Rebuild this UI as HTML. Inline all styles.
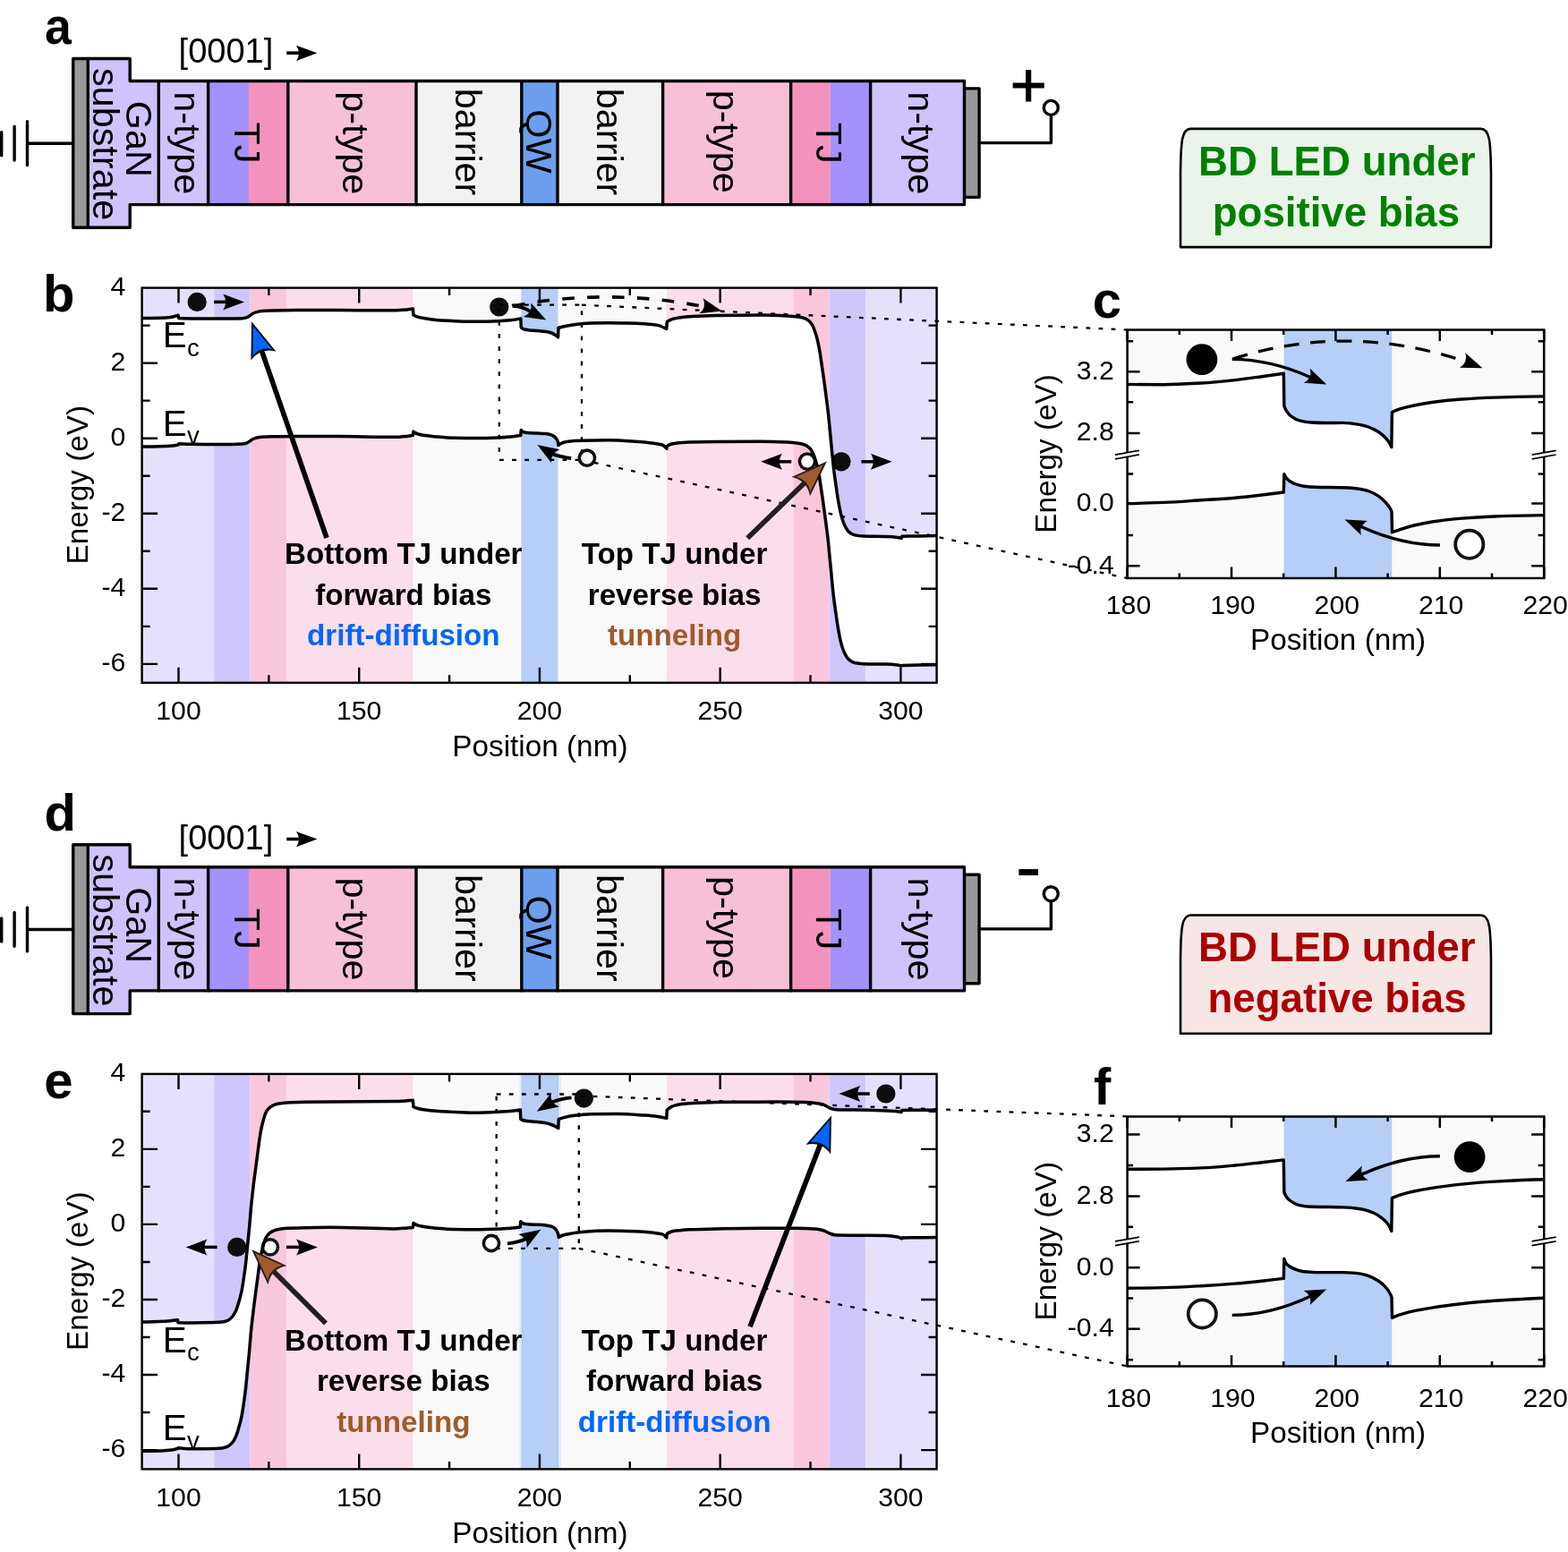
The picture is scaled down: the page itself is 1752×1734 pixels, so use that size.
<!DOCTYPE html>
<html lang="en">
<head>
<meta charset="utf-8">
<title>BD LED band diagrams</title>
<style>
html,body{margin:0;padding:0;background:#fff}
body{width:1752px;height:1734px;overflow:hidden}
svg{display:block}
</style>
</head>
<body>
<svg width="1752" height="1734" viewBox="0 0 1752 1734" font-family='"Liberation Sans", "DejaVu Sans", sans-serif' fill="#000">
<rect width="1752" height="1734" fill="#fff"/>
<text transform="translate(50.1 48.8) scale(0.925 1)" font-size="58" font-weight="bold">a</text>
<text x="48" y="348.2" font-size="58" text-anchor="start" font-weight="bold">b</text>
<text x="1220.8" y="355.4" font-size="58" text-anchor="start" font-weight="bold">c</text>
<text x="49.5" y="928.2" font-size="58" text-anchor="start" font-weight="bold">d</text>
<text x="49.3" y="1227.1" font-size="58" text-anchor="start" font-weight="bold">e</text>
<text x="1222.1" y="1233.9" font-size="58" text-anchor="start" font-weight="bold">f</text>
<g transform="translate(0 0)">
<path d="M98.3 65.5H145.2V90.5 H177.3 V228.6 H145.2 V254.3 H98.3Z" fill="#cfc2fd"/>
<rect x="177.3" y="90.5" width="55.3" height="138.1" fill="#cfc2fd"/>
<rect x="232.6" y="90.5" width="45.4" height="138.1" fill="#a491fc"/>
<rect x="278" y="90.5" width="43.8" height="138.1" fill="#f392bc"/>
<rect x="321.8" y="90.5" width="143.2" height="138.1" fill="#f8c0d8"/>
<rect x="465" y="90.5" width="117.8" height="138.1" fill="#f2f2f2"/>
<rect x="582.8" y="90.5" width="40.2" height="138.1" fill="#6d9eeb"/>
<rect x="623" y="90.5" width="117.6" height="138.1" fill="#f2f2f2"/>
<rect x="740.6" y="90.5" width="143" height="138.1" fill="#f8c0d8"/>
<rect x="883.6" y="90.5" width="44.2" height="138.1" fill="#f392bc"/>
<rect x="927.8" y="90.5" width="44.8" height="138.1" fill="#a491fc"/>
<rect x="972.6" y="90.5" width="104.9" height="138.1" fill="#cfc2fd"/>
<rect x="81.7" y="65.5" width="16.6" height="188.8" fill="#999999"/>
<rect x="1077.5" y="98.9" width="16.6" height="121.5" fill="#999999"/>
<g fill="none" stroke="#000" stroke-width="3.4" stroke-linejoin="round" stroke-linecap="round">
<path d="M81.7 65.5H145.2V90.5 H1077.5 V228.6 H145.2 V254.3 H81.7Z"/>
<path d="M98.3 65.5V254.3"/>
<path d="M177.3 90.5V228.6"/>
<path d="M232.6 90.5V228.6"/>
<path d="M321.8 90.5V228.6"/>
<path d="M465 90.5V228.6"/>
<path d="M582.8 90.5V228.6"/>
<path d="M623 90.5V228.6"/>
<path d="M740.6 90.5V228.6"/>
<path d="M883.6 90.5V228.6"/>
<path d="M972.6 90.5V228.6"/>
<path d="M1077.5 98.9H1094.1V220.4H1077.5"/>
<path d="M81.7 160.2H30.5M30.5 135.6V184.6M16.1 141.2V179.0M1.7 147.6V173.8"/>
<path d="M1094.1 159.6H1174.4V129"/>
<circle cx="1174.3" cy="120.4" r="8.0" fill="#fff" stroke-width="3.4"/>
</g>
<text transform="translate(103.6 161.05) rotate(90)" font-size="41.4" text-anchor="middle">substrate</text>
<text transform="translate(141 155.4) rotate(90)" font-size="41.4" text-anchor="middle">GaN</text>
<text transform="translate(194.5 159.65) rotate(90)" font-size="41.4" text-anchor="middle">n-type</text>
<text transform="translate(262.1 159.4) rotate(90)" font-size="41.4" text-anchor="middle">TJ</text>
<text transform="translate(383.2 159.75) rotate(90)" font-size="41.4" text-anchor="middle">p-type</text>
<text transform="translate(509.1 158.6) rotate(90)" font-size="41.4" text-anchor="middle">barrier</text>
<text transform="translate(588.4 157.9) rotate(90)" font-size="41.4" text-anchor="middle">QW</text>
<text transform="translate(666.8 158.6) rotate(90)" font-size="41.4" text-anchor="middle">barrier</text>
<text transform="translate(797.3 158.2) rotate(90)" font-size="41.4" text-anchor="middle">p-type</text>
<text transform="translate(912.1 159.8) rotate(90)" font-size="41.4" text-anchor="middle">TJ</text>
<text transform="translate(1015.2 159.8) rotate(90)" font-size="41.4" text-anchor="middle">n-type</text>
<text x="199.6" y="70.3" font-size="38" text-anchor="start">[0001]</text>
<line x1="320.2" y1="59.2" x2="336" y2="59.2" stroke="#000" stroke-width="3.6"/>
<path d="M354.4 59.3L331 67.9Q337 59.3 331 50.7Z"/>
<text x="1149.3" y="118.9" font-size="70" text-anchor="middle" stroke="#000" stroke-width="1.1">+</text>
</g>
<g transform="translate(0 878.3)">
<path d="M98.3 65.5H145.2V90.5 H177.3 V228.6 H145.2 V254.3 H98.3Z" fill="#cfc2fd"/>
<rect x="177.3" y="90.5" width="55.3" height="138.1" fill="#cfc2fd"/>
<rect x="232.6" y="90.5" width="45.4" height="138.1" fill="#a491fc"/>
<rect x="278" y="90.5" width="43.8" height="138.1" fill="#f392bc"/>
<rect x="321.8" y="90.5" width="143.2" height="138.1" fill="#f8c0d8"/>
<rect x="465" y="90.5" width="117.8" height="138.1" fill="#f2f2f2"/>
<rect x="582.8" y="90.5" width="40.2" height="138.1" fill="#6d9eeb"/>
<rect x="623" y="90.5" width="117.6" height="138.1" fill="#f2f2f2"/>
<rect x="740.6" y="90.5" width="143" height="138.1" fill="#f8c0d8"/>
<rect x="883.6" y="90.5" width="44.2" height="138.1" fill="#f392bc"/>
<rect x="927.8" y="90.5" width="44.8" height="138.1" fill="#a491fc"/>
<rect x="972.6" y="90.5" width="104.9" height="138.1" fill="#cfc2fd"/>
<rect x="81.7" y="65.5" width="16.6" height="188.8" fill="#999999"/>
<rect x="1077.5" y="98.9" width="16.6" height="121.5" fill="#999999"/>
<g fill="none" stroke="#000" stroke-width="3.4" stroke-linejoin="round" stroke-linecap="round">
<path d="M81.7 65.5H145.2V90.5 H1077.5 V228.6 H145.2 V254.3 H81.7Z"/>
<path d="M98.3 65.5V254.3"/>
<path d="M177.3 90.5V228.6"/>
<path d="M232.6 90.5V228.6"/>
<path d="M321.8 90.5V228.6"/>
<path d="M465 90.5V228.6"/>
<path d="M582.8 90.5V228.6"/>
<path d="M623 90.5V228.6"/>
<path d="M740.6 90.5V228.6"/>
<path d="M883.6 90.5V228.6"/>
<path d="M972.6 90.5V228.6"/>
<path d="M1077.5 98.9H1094.1V220.4H1077.5"/>
<path d="M81.7 160.2H30.5M30.5 135.6V184.6M16.1 141.2V179.0M1.7 147.6V173.8"/>
<path d="M1094.1 159.6H1174.4V129"/>
<circle cx="1174.3" cy="120.4" r="8.0" fill="#fff" stroke-width="3.4"/>
</g>
<text transform="translate(103.6 161.05) rotate(90)" font-size="41.4" text-anchor="middle">substrate</text>
<text transform="translate(141 155.4) rotate(90)" font-size="41.4" text-anchor="middle">GaN</text>
<text transform="translate(194.5 159.65) rotate(90)" font-size="41.4" text-anchor="middle">n-type</text>
<text transform="translate(262.1 159.4) rotate(90)" font-size="41.4" text-anchor="middle">TJ</text>
<text transform="translate(383.2 159.75) rotate(90)" font-size="41.4" text-anchor="middle">p-type</text>
<text transform="translate(509.1 158.6) rotate(90)" font-size="41.4" text-anchor="middle">barrier</text>
<text transform="translate(588.4 157.9) rotate(90)" font-size="41.4" text-anchor="middle">QW</text>
<text transform="translate(666.8 158.6) rotate(90)" font-size="41.4" text-anchor="middle">barrier</text>
<text transform="translate(797.3 158.2) rotate(90)" font-size="41.4" text-anchor="middle">p-type</text>
<text transform="translate(912.1 159.8) rotate(90)" font-size="41.4" text-anchor="middle">TJ</text>
<text transform="translate(1015.2 159.8) rotate(90)" font-size="41.4" text-anchor="middle">n-type</text>
<text x="199.6" y="70.3" font-size="38" text-anchor="start">[0001]</text>
<line x1="320.2" y1="59.2" x2="336" y2="59.2" stroke="#000" stroke-width="3.6"/>
<path d="M354.4 59.3L331 67.9Q337 59.3 331 50.7Z"/>
<text x="1149.2" y="120.1" font-size="88.5" text-anchor="middle">-</text>
</g>
<path d="M1319 276.1 V193.9 C1319.4 156.9 1320.6 144.1 1330.5 143.9 H1654.5 C1664.4 144.1 1665.6 156.9 1666 193.9 V276.1Z" fill="#eaf4ea" stroke="#000" stroke-width="2.6" stroke-linejoin="round"/>
<text x="1493.8" y="195.7" font-size="45.65" text-anchor="middle" font-weight="bold" fill="#008000">BD LED under</text>
<text x="1492.9" y="252.8" font-size="45.65" text-anchor="middle" font-weight="bold" fill="#008000">positive bias</text>
<path d="M1319 1154.7 V1072.5 C1319.4 1035.5 1320.6 1022.7 1330.5 1022.5 H1654.5 C1664.4 1022.7 1665.6 1035.5 1666 1072.5 V1154.7Z" fill="#f6e6e6" stroke="#000" stroke-width="2.6" stroke-linejoin="round"/>
<text x="1493.8" y="1074.3" font-size="45.65" text-anchor="middle" font-weight="bold" fill="#aa0000">BD LED under</text>
<text x="1494" y="1131.4" font-size="45.65" text-anchor="middle" font-weight="bold" fill="#aa0000">negative bias</text>
<rect x="158.6" y="321.6" width="80.7" height="441.2" fill="#e6e0fc"/>
<rect x="239.3" y="321.6" width="40.3" height="441.2" fill="#cfc7fb"/>
<rect x="279.6" y="321.6" width="41" height="441.2" fill="#f9c7dc"/>
<rect x="320.6" y="321.6" width="141.1" height="441.2" fill="#fbdeeb"/>
<rect x="461.7" y="321.6" width="120.6" height="441.2" fill="#f9f9f9"/>
<rect x="582.3" y="321.6" width="41.4" height="441.2" fill="#b7cef6"/>
<rect x="623.7" y="321.6" width="121.1" height="441.2" fill="#f9f9f9"/>
<rect x="744.8" y="321.6" width="141.5" height="441.2" fill="#fbdeeb"/>
<rect x="886.3" y="321.6" width="40.2" height="441.2" fill="#f9c7dc"/>
<rect x="926.5" y="321.6" width="40.8" height="441.2" fill="#cfc7fb"/>
<rect x="967.3" y="321.6" width="79.3" height="441.2" fill="#e6e0fc"/>
<path d="M158.6 355.6C165.73 355.6 172.87 355.48 180 355.3C184 355.2 188 354.85 192 354.3C194.33 353.98 196.67 353.09 199 352.2L199.7 355.5C204.8 355.68 209.9 355.86 215 355.9C223.33 355.96 231.67 356 240 356C246.53 356 253.07 356 259.6 356C263.23 356 266.87 355.89 270.5 355.7C272.33 355.6 274.17 355.18 276 354.6C277.1 354.25 278.2 353.31 279.3 352.6C280.4 351.89 281.5 350.85 282.6 350.3C284.07 349.56 285.53 348.97 287 348.6C288.8 348.14 290.6 347.78 292.4 347.6C296.07 347.23 299.73 347.02 303.4 346.9C312.27 346.62 321.13 346.4 330 346.4C346.67 346.4 363.33 346.54 380 346.6C400 346.67 420 346.8 440 346.8C445 346.8 450 346.41 455 346C457.13 345.82 459.27 345.46 461.4 345.1L461.9 352C463.27 352.69 464.63 353.38 466 353.8C469 354.72 472 355.29 475 355.8C479 356.47 483 357.03 487 357.4C491.33 357.8 495.67 358.07 500 358.3C508.33 358.73 516.67 359.3 525 359.3C531.67 359.3 538.33 359.26 545 359.2C549 359.16 553 358.99 557 358.8C561.33 358.6 565.67 358.25 570 357.8C573.93 357.39 577.87 356.69 581.8 355.9L582.3 365.7C582.87 366.31 583.43 366.91 584 367.2C585 367.7 586 368 587 368.2C588.67 368.54 590.33 368.72 592 368.9C594.67 369.19 597.33 369.35 600 369.6C603.33 369.91 606.67 370.12 610 370.6C612 370.89 614 371.35 616 372C617.33 372.43 618.67 373.18 620 374C621.17 374.72 622.33 375.7 623.5 376.8L624 366.3C626 365.75 628 365.24 630 364.8C633.33 364.07 636.67 363.39 640 362.9C643.33 362.41 646.67 361.99 650 361.7C653.33 361.41 656.67 361.09 660 361C666.67 360.82 673.33 360.7 680 360.7C686.67 360.7 693.33 360.85 700 361C706.67 361.15 713.33 361.4 720 361.8C725 362.1 730 362.51 735 363.4C738.27 363.98 741.53 365.73 744.8 367.5L745.3 359.5C746.53 358.62 747.77 357.79 749 357.3C751 356.51 753 356.03 755 355.6C757.33 355.1 759.67 354.67 762 354.4C764.67 354.09 767.33 353.86 770 353.7C780 353.11 790 352.64 800 352.5C816.67 352.26 833.33 352.1 850 352.1C860 352.1 870 352.45 880 352.9C884.03 353.08 888.07 353.44 892.1 354C894.8 354.38 897.5 355.04 900.2 356.1C901.8 356.73 903.4 357.85 905 359.4C906.07 360.43 907.13 362.15 908.2 364.2C909.03 365.8 909.87 368.26 910.7 370.7C911.5 373.04 912.3 375.58 913.1 378.7C913.9 381.82 914.7 385.61 915.5 390C916.17 393.66 916.83 398.55 917.5 403C918.17 407.45 918.83 412.04 919.5 416.7C920.07 420.66 920.63 424.64 921.2 428.8C921.73 432.71 922.27 436.87 922.8 440.9C923.33 444.93 923.87 448.69 924.4 453C924.87 456.77 925.33 460.68 925.8 465.1C926.37 470.46 926.93 477.11 927.5 483C928.2 490.27 928.9 497.5 929.6 504.5C930.3 511.5 931 519.12 931.7 525C932.5 531.72 933.3 536.98 934.1 542.6C934.9 548.22 935.7 554.16 936.5 558.8C937.57 564.99 938.63 570.89 939.7 574.9C941.07 580.04 942.43 584.23 943.8 587C945.4 590.24 947 592.97 948.6 594.3C950.77 596.1 952.93 597.44 955.1 597.9C958.3 598.58 961.5 599 964.7 599.1C973.13 599.37 981.57 599.27 990 599.5C994.33 599.62 998.67 599.89 1003 600.4C1004.43 600.57 1005.87 601.01 1007.3 601.4L1007.8 599.2C1013.53 599.09 1019.27 598.99 1025 598.9C1032.2 598.79 1039.4 598.69 1046.6 598.6L1046.6 742.8C1039.4 742.81 1032.2 742.9 1025 743C1019.33 743.08 1013.67 743.23 1008 743.4L1007.1 744C1005.67 743.61 1004.23 743.17 1002.8 743C998.47 742.49 994.13 742.22 989.8 742.1C981.37 741.87 972.93 741.97 964.5 741.7C961.3 741.6 958.1 741.18 954.9 740.49C952.73 740.03 950.57 738.68 948.4 736.87C946.8 735.53 945.2 732.79 943.6 729.53C942.23 726.75 940.87 722.53 939.5 717.36C938.43 713.33 937.37 707.4 936.3 701.17C935.5 696.5 934.7 690.54 933.9 684.88C933.1 679.22 932.3 673.94 931.5 667.18C930.8 661.27 930.1 653.6 929.4 646.56C928.7 639.53 928 632.25 927.3 624.94C926.73 619.02 926.17 612.33 925.6 606.94C925.13 602.5 924.67 598.56 924.2 594.77C923.67 590.44 923.13 586.66 922.6 582.6C922.07 578.55 921.53 574.37 921 570.43C920.43 566.25 919.87 562.25 919.3 558.27C918.63 553.58 917.97 548.96 917.3 544.49C916.63 540.02 915.97 535.09 915.3 531.41C914.5 527 913.7 523.19 912.9 520.05C912.1 516.91 911.3 514.36 910.5 512.01C909.67 509.56 908.83 507.08 908 505.47C906.93 503.41 905.87 501.68 904.8 500.64C903.2 499.09 901.6 497.95 900 497.32C897.3 496.26 894.6 495.59 891.9 495.21C887.87 494.65 883.83 494.29 879.8 494.1C869.8 493.66 859.8 493.3 849.8 493.3C833.2 493.3 816.6 493.38 800 493.5C790 493.57 780 493.79 770 494.1C767.33 494.18 764.67 494.32 762 494.5C759.67 494.66 757.33 494.88 755 495.2C753 495.48 751 495.87 749 496.5C747.77 496.89 746.53 497.63 745.3 498.4L744.8 501.1C743.2 499.38 741.6 497.52 740 497C736.67 495.93 733.33 495.64 730 495.2C723.33 494.31 716.67 493.63 710 493.2C700 492.55 690 491.8 680 491.8C670 491.8 660 492.02 650 492.3C645 492.44 640 492.69 635 493.2C633.33 493.37 631.67 493.72 630 494.2C628 494.77 626 495.97 624 497.4L623.5 494C622.83 492.37 622.17 490.9 621.5 490C620.67 488.88 619.83 488.09 619 487.5C618 486.8 617 486.24 616 485.9C614 485.22 612 484.65 610 484.5C606.67 484.26 603.33 484.23 600 484.1C597.33 484 594.67 483.95 592 483.8C590.33 483.71 588.67 483.57 587 483.3C586 483.14 585 482.82 584 482.3C583.43 482 582.87 481.3 582.3 480.6L581.8 486.5C579.53 486.83 577.27 487.16 575 487.4C570 487.94 565 488.46 560 488.7C550 489.17 540 489.6 530 489.6C520 489.6 510 489.34 500 489C495.67 488.85 491.33 488.41 487 488C483 487.62 479 487.11 475 486.5C472.67 486.15 470.33 485.81 468 485.2C466.67 484.85 465.33 484.34 464 483.6C463.3 483.21 462.6 482.57 461.9 481.9L461.4 486.5C459.27 486.85 457.13 487.21 455 487.4C450 487.84 445 488.3 440 488.3C420 488.3 400 487.72 380 487.6C363.33 487.5 346.67 487.4 330 487.4C321.13 487.4 312.27 487.53 303.4 487.7C299.73 487.77 296.07 487.93 292.4 488.2C290.6 488.33 288.8 488.62 287 489C285.53 489.31 284.07 489.82 282.6 490.5C281.5 491.01 280.4 492.09 279.3 492.8C278.2 493.51 277.1 494.43 276 494.8C274.17 495.41 272.33 495.88 270.5 496C266.87 496.25 263.23 496.36 259.6 496.4C253.07 496.46 246.53 496.5 240 496.5C231.67 496.5 223.33 496.42 215 496.3C209.97 496.23 204.93 495.96 199.9 495.7L199.2 497C197.8 497.31 196.4 497.63 195 497.8C191.67 498.2 188.33 498.49 185 498.6C176.2 498.9 167.4 499.1 158.6 499.1Z" fill="#fff"/>
<g stroke="#000" stroke-width="2.4" fill="none">
<path d="M199.5 321.6v17 M199.5 762.8v-17 M300.36 321.6v8.5 M300.36 762.8v-8.5 M401.23 321.6v17 M401.23 762.8v-17 M502.09 321.6v8.5 M502.09 762.8v-8.5 M602.95 321.6v17 M602.95 762.8v-17 M703.81 321.6v8.5 M703.81 762.8v-8.5 M804.68 321.6v17 M804.68 762.8v-17 M905.54 321.6v8.5 M905.54 762.8v-8.5 M1006.4 321.6v17 M1006.4 762.8v-17 M158.6 741.88h17.5 M1046.6 741.88h-17.5 M158.6 699.85h9 M1046.6 699.85h-9 M158.6 657.82h17.5 M1046.6 657.82h-17.5 M158.6 615.79h9 M1046.6 615.79h-9 M158.6 573.76h17.5 M1046.6 573.76h-17.5 M158.6 531.73h9 M1046.6 531.73h-9 M158.6 489.7h17.5 M1046.6 489.7h-17.5 M158.6 447.67h9 M1046.6 447.67h-9 M158.6 405.64h17.5 M1046.6 405.64h-17.5 M158.6 363.61h9 M1046.6 363.61h-9"/>
<rect x="158.6" y="321.6" width="888" height="441.2"/>
</g>
<g font-size="30.2">
<text x="199.5" y="804.3" font-size="30.2" text-anchor="middle">100</text>
<text x="401.23" y="804.3" font-size="30.2" text-anchor="middle">150</text>
<text x="602.95" y="804.3" font-size="30.2" text-anchor="middle">200</text>
<text x="804.68" y="804.3" font-size="30.2" text-anchor="middle">250</text>
<text x="1006.4" y="804.3" font-size="30.2" text-anchor="middle">300</text>
<text x="140.4" y="749.88" font-size="30.2" text-anchor="end">-6</text>
<text x="140.4" y="665.82" font-size="30.2" text-anchor="end">-4</text>
<text x="140.4" y="581.76" font-size="30.2" text-anchor="end">-2</text>
<text x="140.4" y="497.7" font-size="30.2" text-anchor="end">0</text>
<text x="140.4" y="413.64" font-size="30.2" text-anchor="end">2</text>
<text x="140.4" y="329.58" font-size="30.2" text-anchor="end">4</text>
</g>
<text x="603.4" y="845" font-size="33.3" text-anchor="middle">Position (nm)</text>
<text transform="translate(98 541.7) rotate(-90)" font-size="33.3" text-anchor="middle">Energy (eV)</text>
<circle cx="220.2" cy="337.4" r="10.6" fill="#0d0d0d"/>
<line x1="239" y1="337.4" x2="253.2" y2="337.4" stroke="#000" stroke-width="3.5"/>
<path d="M273 337.4L249.2 346.4Q255.2 337.4 249.2 328.4Z"/>
<circle cx="557.8" cy="343" r="10.6" fill="#0d0d0d"/>
<circle cx="940" cy="515.8" r="10.6" fill="#0d0d0d"/>
<path d="M557.8 340.7H650V513.8H557.8Z" fill="none" stroke="#000" stroke-width="2.3" stroke-dasharray="4.8 9.3"/>
<path d="M650 340.7L1259.6 368.5" fill="none" stroke="#000" stroke-width="2.3" stroke-dasharray="4.8 9.3"/>
<path d="M650 513.8L1259.6 646" fill="none" stroke="#000" stroke-width="2.3" stroke-dasharray="4.8 9.3"/>
<circle cx="655.9" cy="511.7" r="8.6" fill="#fff" fill-opacity="0.94" stroke="#111" stroke-width="3.6"/>
<circle cx="902" cy="515.6" r="8.6" fill="#fff" fill-opacity="0.94" stroke="#111" stroke-width="3.6"/>
<path d="M158.6 355.6C165.73 355.6 172.87 355.48 180 355.3C184 355.2 188 354.85 192 354.3C194.33 353.98 196.67 353.09 199 352.2L199.7 355.5C204.8 355.68 209.9 355.86 215 355.9C223.33 355.96 231.67 356 240 356C246.53 356 253.07 356 259.6 356C263.23 356 266.87 355.89 270.5 355.7C272.33 355.6 274.17 355.18 276 354.6C277.1 354.25 278.2 353.31 279.3 352.6C280.4 351.89 281.5 350.85 282.6 350.3C284.07 349.56 285.53 348.97 287 348.6C288.8 348.14 290.6 347.78 292.4 347.6C296.07 347.23 299.73 347.02 303.4 346.9C312.27 346.62 321.13 346.4 330 346.4C346.67 346.4 363.33 346.54 380 346.6C400 346.67 420 346.8 440 346.8C445 346.8 450 346.41 455 346C457.13 345.82 459.27 345.46 461.4 345.1L461.9 352C463.27 352.69 464.63 353.38 466 353.8C469 354.72 472 355.29 475 355.8C479 356.47 483 357.03 487 357.4C491.33 357.8 495.67 358.07 500 358.3C508.33 358.73 516.67 359.3 525 359.3C531.67 359.3 538.33 359.26 545 359.2C549 359.16 553 358.99 557 358.8C561.33 358.6 565.67 358.25 570 357.8C573.93 357.39 577.87 356.69 581.8 355.9L582.3 365.7C582.87 366.31 583.43 366.91 584 367.2C585 367.7 586 368 587 368.2C588.67 368.54 590.33 368.72 592 368.9C594.67 369.19 597.33 369.35 600 369.6C603.33 369.91 606.67 370.12 610 370.6C612 370.89 614 371.35 616 372C617.33 372.43 618.67 373.18 620 374C621.17 374.72 622.33 375.7 623.5 376.8L624 366.3C626 365.75 628 365.24 630 364.8C633.33 364.07 636.67 363.39 640 362.9C643.33 362.41 646.67 361.99 650 361.7C653.33 361.41 656.67 361.09 660 361C666.67 360.82 673.33 360.7 680 360.7C686.67 360.7 693.33 360.85 700 361C706.67 361.15 713.33 361.4 720 361.8C725 362.1 730 362.51 735 363.4C738.27 363.98 741.53 365.73 744.8 367.5L745.3 359.5C746.53 358.62 747.77 357.79 749 357.3C751 356.51 753 356.03 755 355.6C757.33 355.1 759.67 354.67 762 354.4C764.67 354.09 767.33 353.86 770 353.7C780 353.11 790 352.64 800 352.5C816.67 352.26 833.33 352.1 850 352.1C860 352.1 870 352.45 880 352.9C884.03 353.08 888.07 353.44 892.1 354C894.8 354.38 897.5 355.04 900.2 356.1C901.8 356.73 903.4 357.85 905 359.4C906.07 360.43 907.13 362.15 908.2 364.2C909.03 365.8 909.87 368.26 910.7 370.7C911.5 373.04 912.3 375.58 913.1 378.7C913.9 381.82 914.7 385.61 915.5 390C916.17 393.66 916.83 398.55 917.5 403C918.17 407.45 918.83 412.04 919.5 416.7C920.07 420.66 920.63 424.64 921.2 428.8C921.73 432.71 922.27 436.87 922.8 440.9C923.33 444.93 923.87 448.69 924.4 453C924.87 456.77 925.33 460.68 925.8 465.1C926.37 470.46 926.93 477.11 927.5 483C928.2 490.27 928.9 497.5 929.6 504.5C930.3 511.5 931 519.12 931.7 525C932.5 531.72 933.3 536.98 934.1 542.6C934.9 548.22 935.7 554.16 936.5 558.8C937.57 564.99 938.63 570.89 939.7 574.9C941.07 580.04 942.43 584.23 943.8 587C945.4 590.24 947 592.97 948.6 594.3C950.77 596.1 952.93 597.44 955.1 597.9C958.3 598.58 961.5 599 964.7 599.1C973.13 599.37 981.57 599.27 990 599.5C994.33 599.62 998.67 599.89 1003 600.4C1004.43 600.57 1005.87 601.01 1007.3 601.4L1007.8 599.2C1013.53 599.09 1019.27 598.99 1025 598.9C1032.2 598.79 1039.4 598.69 1046.6 598.6" fill="none" stroke="#000" stroke-width="3.5" stroke-linejoin="round"/>
<path d="M158.6 499.1C167.4 499.1 176.2 498.9 185 498.6C188.33 498.49 191.67 498.2 195 497.8C196.4 497.63 197.8 497.31 199.2 497L199.9 495.7C204.93 495.96 209.97 496.23 215 496.3C223.33 496.42 231.67 496.5 240 496.5C246.53 496.5 253.07 496.46 259.6 496.4C263.23 496.36 266.87 496.25 270.5 496C272.33 495.88 274.17 495.41 276 494.8C277.1 494.43 278.2 493.51 279.3 492.8C280.4 492.09 281.5 491.01 282.6 490.5C284.07 489.82 285.53 489.31 287 489C288.8 488.62 290.6 488.33 292.4 488.2C296.07 487.93 299.73 487.77 303.4 487.7C312.27 487.53 321.13 487.4 330 487.4C346.67 487.4 363.33 487.5 380 487.6C400 487.72 420 488.3 440 488.3C445 488.3 450 487.84 455 487.4C457.13 487.21 459.27 486.85 461.4 486.5L461.9 481.9C462.6 482.57 463.3 483.21 464 483.6C465.33 484.34 466.67 484.85 468 485.2C470.33 485.81 472.67 486.15 475 486.5C479 487.11 483 487.62 487 488C491.33 488.41 495.67 488.85 500 489C510 489.34 520 489.6 530 489.6C540 489.6 550 489.17 560 488.7C565 488.46 570 487.94 575 487.4C577.27 487.16 579.53 486.83 581.8 486.5L582.3 480.6C582.87 481.3 583.43 482 584 482.3C585 482.82 586 483.14 587 483.3C588.67 483.57 590.33 483.71 592 483.8C594.67 483.95 597.33 484 600 484.1C603.33 484.23 606.67 484.26 610 484.5C612 484.65 614 485.22 616 485.9C617 486.24 618 486.8 619 487.5C619.83 488.09 620.67 488.88 621.5 490C622.17 490.9 622.83 492.37 623.5 494L624 497.4C626 495.97 628 494.77 630 494.2C631.67 493.72 633.33 493.37 635 493.2C640 492.69 645 492.44 650 492.3C660 492.02 670 491.8 680 491.8C690 491.8 700 492.55 710 493.2C716.67 493.63 723.33 494.31 730 495.2C733.33 495.64 736.67 495.93 740 497C741.6 497.52 743.2 499.38 744.8 501.1L745.3 498.4C746.53 497.63 747.77 496.89 749 496.5C751 495.87 753 495.48 755 495.2C757.33 494.88 759.67 494.66 762 494.5C764.67 494.32 767.33 494.18 770 494.1C780 493.79 790 493.57 800 493.5C816.6 493.38 833.2 493.3 849.8 493.3C859.8 493.3 869.8 493.66 879.8 494.1C883.83 494.29 887.87 494.65 891.9 495.21C894.6 495.59 897.3 496.26 900 497.32C901.6 497.95 903.2 499.09 904.8 500.64C905.87 501.68 906.93 503.41 908 505.47C908.83 507.08 909.67 509.56 910.5 512.01C911.3 514.36 912.1 516.91 912.9 520.05C913.7 523.19 914.5 527 915.3 531.41C915.97 535.09 916.63 540.02 917.3 544.49C917.97 548.96 918.63 553.58 919.3 558.27C919.87 562.25 920.43 566.25 921 570.43C921.53 574.37 922.07 578.55 922.6 582.6C923.13 586.66 923.67 590.44 924.2 594.77C924.67 598.56 925.13 602.5 925.6 606.94C926.17 612.33 926.73 619.02 927.3 624.94C928 632.25 928.7 639.53 929.4 646.56C930.1 653.6 930.8 661.27 931.5 667.18C932.3 673.94 933.1 679.22 933.9 684.88C934.7 690.54 935.5 696.5 936.3 701.17C937.37 707.4 938.43 713.33 939.5 717.36C940.87 722.53 942.23 726.75 943.6 729.53C945.2 732.79 946.8 735.53 948.4 736.87C950.57 738.68 952.73 740.03 954.9 740.49C958.1 741.18 961.3 741.6 964.5 741.7C972.93 741.97 981.37 741.87 989.8 742.1C994.13 742.22 998.47 742.49 1002.8 743C1004.23 743.17 1005.67 743.61 1007.1 744L1008 743.4C1013.67 743.23 1019.33 743.08 1025 743C1032.2 742.9 1039.4 742.81 1046.6 742.8" fill="none" stroke="#000" stroke-width="3.5" stroke-linejoin="round"/>
<line x1="884.3" y1="515.8" x2="869.9" y2="515.8" stroke="#000" stroke-width="3.5"/>
<path d="M850.1 515.8L873.9 506.8Q867.9 515.8 873.9 524.8Z"/>
<line x1="962.4" y1="515.8" x2="976.9" y2="515.8" stroke="#000" stroke-width="3.5"/>
<path d="M996.7 515.8L972.9 524.8Q978.9 515.8 972.9 506.8Z"/>
<path d="M573 341.8Q681 321.3 788.24 342.98" fill="none" stroke="#000" stroke-width="3.6" stroke-dasharray="13.6 14.3"/>
<path d="M806.7 347.5L781.3 350.34Q790.19 343.46 785.48 333.25Z"/>
<path d="M572.6 341.9Q585 342.5 593.55 348.64" fill="none" stroke="#000" stroke-width="3.8"/>
<path d="M610.3 357.6L584.99 354.04Q595.31 349.58 593.29 338.52Z"/>
<path d="M638.2 512Q626 510.5 616.56 507.1" fill="none" stroke="#000" stroke-width="3.8"/>
<path d="M600.4 497.1L625.44 502.25Q614.85 506.05 616.17 517.21Z"/>
<text x="181.8" y="388.3" font-size="40.5">E<tspan font-size="27.5" dy="9.4" dx="0.3">c</tspan></text>
<text x="181.8" y="486.6" font-size="40.5">E<tspan font-size="27.5" dy="9.4" dx="0.3">v</tspan></text>
<line x1="365" y1="601" x2="292.25" y2="391.42" stroke="#000" stroke-width="5.6"/>
<path d="M281.1 359.3L308.4 392.8Q291.07 388.02 280.43 402.51Z" fill="#000"/>
<path d="M282.94 364.59L304.03 390.29Q290.81 387.26 282.3 397.84Z" fill="#0066ff"/>
<line x1="835.2" y1="601.2" x2="899.46" y2="539.04" stroke="#231f20" stroke-width="5.6"/>
<path d="M923.9 515.4L905.01 554.27Q902.05 536.54 884.43 532.99Z" fill="#231f20"/>
<path d="M919.87 519.29L905.45 549.25Q902.62 535.98 889.45 532.72Z" fill="#a05a2c"/>
<text x="450.8" y="630.4" font-size="33.2" text-anchor="middle" font-weight="bold">Bottom TJ under</text>
<text x="450.8" y="675.9" font-size="33.2" text-anchor="middle" font-weight="bold">forward bias</text>
<text x="450.8" y="721.4" font-size="33.2" text-anchor="middle" font-weight="bold" fill="#0066ff">drift-diffusion</text>
<text x="753.6" y="630.4" font-size="33.2" text-anchor="middle" font-weight="bold">Top TJ under</text>
<text x="753.6" y="675.9" font-size="33.2" text-anchor="middle" font-weight="bold">reverse bias</text>
<text x="753.6" y="721.4" font-size="33.2" text-anchor="middle" font-weight="bold" fill="#a05a2c">tunneling</text>
<rect x="1259.6" y="368.5" width="465.6" height="277.5" fill="#f9f9f9"/>
<rect x="1434.6" y="368.5" width="120.7" height="277.5" fill="#b7cef6"/>
<path d="M1259.6 429.4C1273.07 429.7 1286.53 429.7 1300 429.7C1314 429.7 1328 428.79 1342 428C1354.67 427.29 1367.33 425.95 1380 424.6C1390 423.53 1400 422.05 1410 420.7C1418.1 419.61 1426.2 418.47 1434.3 417.3L1434.8 453.6C1435.6 455.57 1436.4 457.55 1437.2 458.8C1439.13 461.81 1441.07 464.02 1443 465.4C1446 467.54 1449 469.14 1452 469.9C1456.33 470.99 1460.67 471.76 1465 472C1470 472.28 1475 472.5 1480 472.5C1486.67 472.5 1493.33 472.4 1500 472.4C1506.67 472.4 1513.33 473.54 1520 474.7C1525 475.57 1530 477.38 1535 479.6C1538.33 481.08 1541.67 483.29 1545 486.1C1547.33 488.07 1549.67 490.6 1552 494.1C1552.93 495.5 1553.87 497.55 1554.8 499.6L1555.4 460.5C1558.6 459.05 1561.8 457.69 1565 456.7C1570 455.15 1575 454.03 1580 453C1586.67 451.62 1593.33 450.4 1600 449.5C1610 448.15 1620 447.04 1630 446.3C1643.33 445.32 1656.67 444.53 1670 444.1C1688.4 443.51 1706.8 442.95 1725.2 442.9L1725.2 575.6C1706.8 575.7 1688.4 576.33 1670 577C1656.67 577.49 1643.33 578.32 1630 579.4C1620 580.21 1610 581.47 1600 583C1593.33 584.02 1586.67 585.42 1580 587C1575 588.19 1570 589.72 1565 591.3C1561.83 592.3 1558.67 593.43 1555.5 594.6L1555 572C1554.67 571 1554.33 569.86 1554 569.2C1552 565.23 1550 563.23 1548 561.1C1545.33 558.26 1542.67 555.95 1540 554.2C1536.67 552.02 1533.33 550.06 1530 549C1525 547.41 1520 546.17 1515 545.7C1510 545.23 1505 544.94 1500 544.8C1490 544.52 1480 544.61 1470 544.3C1465.67 544.17 1461.33 543.76 1457 543.2C1454 542.81 1451 542 1448 541C1445.67 540.22 1443.33 539.1 1441 537.5C1439.67 536.58 1438.33 535.23 1437 533.5C1436.27 532.55 1435.53 531.16 1434.8 529.7L1434.3 550C1426.2 551.06 1418.1 552.07 1410 553C1400 554.15 1390 555.36 1380 556.2C1367.33 557.27 1354.67 557.98 1342 558.8C1328 559.71 1314 560.84 1300 561.4C1286.53 561.94 1273.07 562.41 1259.6 562.6Z" fill="#fff"/>
<g stroke="#000" stroke-width="2.5" fill="none">
<path d="M1259.6 368.5v12.5 M1259.6 646v-12.5 M1317.8 368.5v5.4 M1317.8 646v-5.4 M1376 368.5v12.5 M1376 646v-12.5 M1434.2 368.5v5.4 M1434.2 646v-5.4 M1492.4 368.5v12.5 M1492.4 646v-12.5 M1550.6 368.5v5.4 M1550.6 646v-5.4 M1608.8 368.5v12.5 M1608.8 646v-12.5 M1667 368.5v5.4 M1667 646v-5.4 M1725.2 368.5v12.5 M1725.2 646v-12.5 M1259.6 415.2h14 M1725.2 415.2h-14 M1259.6 483.9h14 M1725.2 483.9h-14 M1259.6 562.6h14 M1725.2 562.6h-14 M1259.6 632.3h14 M1725.2 632.3h-14 M1259.6 381.3h6.5 M1725.2 381.3h-6.5 M1259.6 449.3h6.5 M1725.2 449.3h-6.5 M1259.6 529.4h6.5 M1725.2 529.4h-6.5 M1259.6 598.1h6.5 M1725.2 598.1h-6.5"/>
<rect x="1259.6" y="368.5" width="465.6" height="277.5"/>
</g>
<path d="M1246 508.1 L1273 503.3 L1273 508 L1246 512.8Z" fill="#fff"/>
<path d="M1246 508.1 L1273 503.3 M1246 512.8 L1273 508" stroke="#000" stroke-width="1.7" fill="none"/>
<path d="M1711.6 508.1 L1738.6 503.3 L1738.6 508 L1711.6 512.8Z" fill="#fff"/>
<path d="M1711.6 508.1 L1738.6 503.3 M1711.6 512.8 L1738.6 508" stroke="#000" stroke-width="1.7" fill="none"/>
<text x="1261" y="686" font-size="30.2" text-anchor="middle">180</text>
<text x="1377.4" y="686" font-size="30.2" text-anchor="middle">190</text>
<text x="1493.8" y="686" font-size="30.2" text-anchor="middle">200</text>
<text x="1610.2" y="686" font-size="30.2" text-anchor="middle">210</text>
<text x="1726.6" y="686" font-size="30.2" text-anchor="middle">220</text>
<text x="1244.7" y="423.5" font-size="30.2" text-anchor="end">3.2</text>
<text x="1244.7" y="492.2" font-size="30.2" text-anchor="end">2.8</text>
<text x="1244.7" y="570.9" font-size="30.2" text-anchor="end">0.0</text>
<text x="1244.7" y="640.6" font-size="30.2" text-anchor="end">-0.4</text>
<text x="1495" y="726.1" font-size="33.3" text-anchor="middle">Position (nm)</text>
<text transform="translate(1179.8 506.95) rotate(-90)" font-size="33.3" text-anchor="middle">Energy (eV)</text>
<path d="M1259.6 429.4C1273.07 429.7 1286.53 429.7 1300 429.7C1314 429.7 1328 428.79 1342 428C1354.67 427.29 1367.33 425.95 1380 424.6C1390 423.53 1400 422.05 1410 420.7C1418.1 419.61 1426.2 418.47 1434.3 417.3L1434.8 453.6C1435.6 455.57 1436.4 457.55 1437.2 458.8C1439.13 461.81 1441.07 464.02 1443 465.4C1446 467.54 1449 469.14 1452 469.9C1456.33 470.99 1460.67 471.76 1465 472C1470 472.28 1475 472.5 1480 472.5C1486.67 472.5 1493.33 472.4 1500 472.4C1506.67 472.4 1513.33 473.54 1520 474.7C1525 475.57 1530 477.38 1535 479.6C1538.33 481.08 1541.67 483.29 1545 486.1C1547.33 488.07 1549.67 490.6 1552 494.1C1552.93 495.5 1553.87 497.55 1554.8 499.6L1555.4 460.5C1558.6 459.05 1561.8 457.69 1565 456.7C1570 455.15 1575 454.03 1580 453C1586.67 451.62 1593.33 450.4 1600 449.5C1610 448.15 1620 447.04 1630 446.3C1643.33 445.32 1656.67 444.53 1670 444.1C1688.4 443.51 1706.8 442.95 1725.2 442.9" fill="none" stroke="#000" stroke-width="3.4" stroke-linejoin="round"/>
<path d="M1259.6 562.6C1273.07 562.41 1286.53 561.94 1300 561.4C1314 560.84 1328 559.71 1342 558.8C1354.67 557.98 1367.33 557.27 1380 556.2C1390 555.36 1400 554.15 1410 553C1418.1 552.07 1426.2 551.06 1434.3 550L1434.8 529.7C1435.53 531.16 1436.27 532.55 1437 533.5C1438.33 535.23 1439.67 536.58 1441 537.5C1443.33 539.1 1445.67 540.22 1448 541C1451 542 1454 542.81 1457 543.2C1461.33 543.76 1465.67 544.17 1470 544.3C1480 544.61 1490 544.52 1500 544.8C1505 544.94 1510 545.23 1515 545.7C1520 546.17 1525 547.41 1530 549C1533.33 550.06 1536.67 552.02 1540 554.2C1542.67 555.95 1545.33 558.26 1548 561.1C1550 563.23 1552 565.23 1554 569.2C1554.33 569.86 1554.67 571 1555 572L1555.5 594.6C1558.67 593.43 1561.83 592.3 1565 591.3C1570 589.72 1575 588.19 1580 587C1586.67 585.42 1593.33 584.02 1600 583C1610 581.47 1620 580.21 1630 579.4C1643.33 578.32 1656.67 577.49 1670 577C1688.4 576.33 1706.8 575.7 1725.2 575.6" fill="none" stroke="#000" stroke-width="3.4" stroke-linejoin="round"/>
<circle cx="1342.9" cy="401.7" r="17.4" fill="#000"/>
<circle cx="1641.8" cy="608.2" r="15.6" fill="#fff" fill-opacity="0.94" stroke="#111" stroke-width="3.8"/>
<path d="M1376.7 401.4Q1419.8 401.5 1464.8 421.76" fill="none" stroke="#000" stroke-width="3.4"/>
<path d="M1482.2 429.4L1456.69 427.81Q1466.63 422.57 1463.76 411.69Z"/>
<path d="M1377.5 401Q1507.5 359.5 1638.78 404.35" fill="none" stroke="#000" stroke-width="3.3" stroke-dasharray="17 12.5"/>
<path d="M1656.5 411.2L1630.94 410.75Q1640.64 405.07 1637.29 394.34Z"/>
<path d="M1608.9 609Q1566 609 1519.91 588.02" fill="none" stroke="#000" stroke-width="3.4"/>
<path d="M1502.5 580.4L1528.01 581.96Q1518.07 587.22 1520.96 598.09Z"/>
<rect x="158.6" y="1199.9" width="80.7" height="441.5" fill="#e6e0fc"/>
<rect x="239.3" y="1199.9" width="40.3" height="441.5" fill="#cfc7fb"/>
<rect x="279.6" y="1199.9" width="41" height="441.5" fill="#f9c7dc"/>
<rect x="320.6" y="1199.9" width="141.1" height="441.5" fill="#fbdeeb"/>
<rect x="461.7" y="1199.9" width="120.6" height="441.5" fill="#f9f9f9"/>
<rect x="582.3" y="1199.9" width="41.4" height="441.5" fill="#b7cef6"/>
<rect x="623.7" y="1199.9" width="121.1" height="441.5" fill="#f9f9f9"/>
<rect x="744.8" y="1199.9" width="141.5" height="441.5" fill="#fbdeeb"/>
<rect x="886.3" y="1199.9" width="40.2" height="441.5" fill="#f9c7dc"/>
<rect x="926.5" y="1199.9" width="40.8" height="441.5" fill="#cfc7fb"/>
<rect x="967.3" y="1199.9" width="79.3" height="441.5" fill="#e6e0fc"/>
<rect x="580.6" y="1199.9" width="46.1" height="441.5" fill="#dfe8f9"/>
<rect x="582.8" y="1199.9" width="41.2" height="441.5" fill="#aac5f5"/>
<rect x="584.0" y="1199.9" width="38.8" height="441.5" fill="#b7cef6"/>
<path d="M158.6 1477.1C167.4 1477.1 176.2 1476.75 185 1476.3C189.5 1476.07 194 1475.37 198.5 1474.7L199 1477.7C204.33 1477.83 209.67 1477.9 215 1477.9C223.33 1477.9 231.67 1477.74 240 1477.5C242.7 1477.42 245.4 1477.28 248.1 1477C250.23 1476.78 252.37 1476.17 254.5 1475.3C256.13 1474.63 257.77 1473.1 259.4 1471.3C260.73 1469.83 262.07 1467.61 263.4 1464.8C264.47 1462.55 265.53 1459.01 266.6 1455.5C267.7 1451.88 268.8 1448.18 269.9 1443C270.7 1439.23 271.5 1433.85 272.3 1428.5C273.1 1423.15 273.9 1417.4 274.7 1410.5C275.37 1404.75 276.03 1397.12 276.7 1390.4C277.37 1383.68 278.03 1377.5 278.7 1370.2C279.27 1364 279.83 1356.02 280.4 1350C280.93 1344.33 281.47 1339.43 282 1334.6C282.53 1329.77 283.07 1325.18 283.6 1320.9C284.13 1316.62 284.67 1312.83 285.2 1308.8C285.73 1304.77 286.27 1300.73 286.8 1296.7C287.33 1292.67 287.87 1288.63 288.4 1284.6C288.93 1280.57 289.47 1276.01 290 1272.5C290.7 1267.89 291.4 1263.72 292.1 1260.4C292.77 1257.23 293.43 1254.76 294.1 1252.3C294.9 1249.35 295.7 1245.98 296.5 1244.2C297.57 1241.82 298.63 1240.16 299.7 1239C301.07 1237.51 302.43 1236.42 303.8 1235.7C305.93 1234.58 308.07 1233.74 310.2 1233.3C313.7 1232.58 317.2 1232.09 320.7 1231.9C327.13 1231.55 333.57 1231.42 340 1231.3C350 1231.11 360 1230.98 370 1230.9C393.33 1230.7 416.67 1230.79 440 1230.5C445 1230.44 450 1230.1 455 1229.8C457.13 1229.67 459.27 1229.49 461.4 1229.3L461.9 1236.6C463.27 1237.21 464.63 1237.82 466 1238.2C469 1239.03 472 1239.57 475 1240C479 1240.57 483 1240.98 487 1241.3C491.33 1241.64 495.67 1241.89 500 1242.1C510 1242.58 520 1243.2 530 1243.2C540 1243.2 550 1242.62 560 1242.1C564 1241.89 568 1241.6 572 1241.2C575.1 1240.89 578.2 1240.42 581.3 1239.9L581.8 1250.3C582.53 1250.8 583.27 1251.26 584 1251.5C585 1251.83 586 1252.04 587 1252.2C588.67 1252.47 590.33 1252.62 592 1252.8C594.67 1253.09 597.33 1253.31 600 1253.6C603.33 1253.96 606.67 1254.22 610 1254.8C612 1255.15 614 1255.81 616 1256.5C617.33 1256.96 618.67 1257.53 620 1258.2C621.27 1258.83 622.53 1259.62 623.8 1260.5L624.3 1250.3C626.2 1249.67 628.1 1249.06 630 1248.6C633.33 1247.79 636.67 1247.07 640 1246.6C643.33 1246.13 646.67 1245.79 650 1245.5C653.33 1245.21 656.67 1244.85 660 1244.8C670 1244.66 680 1244.6 690 1244.6C700 1244.6 710 1245.45 720 1246.1C725 1246.43 730 1246.77 735 1247.4C738.27 1247.81 741.53 1248.58 744.8 1249.4L745.3 1240C746.87 1238.58 748.43 1237.33 750 1236.6C751.67 1235.83 753.33 1235.35 755 1234.9C756.67 1234.45 758.33 1234.02 760 1233.8C766.67 1232.94 773.33 1232.45 780 1232.2C793.33 1231.7 806.67 1231.39 820 1231.3C836.67 1231.18 853.33 1231.1 870 1231.1C880 1231.1 890 1231.25 900 1231.5C905 1231.63 910 1232.15 915 1232.9C916.67 1233.15 918.33 1233.61 920 1234.2C921 1234.55 922 1235.18 923 1235.7C924.17 1236.31 925.33 1237.06 926.5 1237.6C927.67 1238.14 928.83 1238.73 930 1239C931.67 1239.39 933.33 1239.69 935 1239.8C936.67 1239.91 938.33 1239.98 940 1240C950 1240.14 960 1240.08 970 1240.2C980 1240.32 990 1240.73 1000 1241.5C1002.33 1241.68 1004.67 1242.18 1007 1242.6L1007.8 1240.4C1013.53 1240.3 1019.27 1240.2 1025 1240.2C1032.2 1240.2 1039.4 1240.2 1046.6 1240.2L1046.6 1382.6C1039.4 1382.6 1032.2 1382.65 1025 1382.7C1019.33 1382.74 1013.67 1382.82 1008 1382.9L1007.5 1383.8C1006 1383.09 1004.5 1382.31 1003 1382C998.67 1381.11 994.33 1380.45 990 1380.4C976.67 1380.25 963.33 1380.32 950 1380.2C944.33 1380.15 938.67 1380.09 933 1379.8C931 1379.7 929 1378.73 927 1378C924.67 1377.15 922.33 1375.3 920 1374.7C916.67 1373.84 913.33 1373.21 910 1373C903.33 1372.58 896.67 1372.3 890 1372.3C876.67 1372.3 863.33 1372.3 850 1372.3C833.33 1372.3 816.67 1372.6 800 1372.9C790 1373.08 780 1373.33 770 1373.8C765 1374.04 760 1374.42 755 1375.1C753 1375.37 751 1375.83 749 1376.5C747.77 1376.92 746.53 1377.69 745.3 1378.5L744.8 1382.9C743.2 1381.22 741.6 1379.37 740 1378.9C736.67 1377.93 733.33 1377.65 730 1377.3C723.33 1376.59 716.67 1376.05 710 1375.8C700 1375.43 690 1375.1 680 1375.1C670 1375.1 660 1375.75 650 1376.5C645 1376.88 640 1377.79 635 1378.7C633.33 1379 631.67 1379.31 630 1379.8C628.1 1380.36 626.2 1381.29 624.3 1382.4L623.8 1379C623.03 1377.08 622.27 1375.39 621.5 1374.3C620.67 1373.12 619.83 1372.18 619 1371.6C618 1370.91 617 1370.4 616 1370.1C614 1369.5 612 1369.09 610 1368.9C606.67 1368.58 603.33 1368.45 600 1368.3C597.33 1368.18 594.67 1368.14 592 1368C590.33 1367.91 588.67 1367.83 587 1367.6C586 1367.46 585 1367.09 584 1366.6C583.27 1366.24 582.53 1365.5 581.8 1364.7L581.3 1371C579.2 1371.3 577.1 1371.59 575 1371.8C570 1372.31 565 1372.79 560 1373C550 1373.42 540 1373.8 530 1373.8C520 1373.8 510 1373.54 500 1373.2C495.67 1373.05 491.33 1372.61 487 1372.2C483 1371.82 479 1371.31 475 1370.7C472.67 1370.35 470.33 1370 468 1369.4C466.67 1369.06 465.33 1368.56 464 1367.9C463.3 1367.55 462.6 1367.04 461.9 1366.5L461.4 1371.4C459.27 1371.57 457.13 1371.74 455 1371.9C450 1372.26 445 1372.9 440 1372.9C416.6 1372.9 393.2 1371.3 369.8 1371.3C359.8 1371.3 349.8 1371.51 339.8 1371.7C333.37 1371.82 326.93 1371.95 320.5 1372.3C317 1372.49 313.5 1372.99 310 1373.7C307.87 1374.14 305.73 1374.99 303.6 1376.11C302.23 1376.83 300.87 1377.92 299.5 1379.42C298.43 1380.58 297.37 1382.24 296.3 1384.63C295.5 1386.41 294.7 1389.78 293.9 1392.74C293.23 1395.21 292.57 1397.69 291.9 1400.86C291.2 1404.19 290.5 1408.37 289.8 1412.98C289.27 1416.5 288.73 1421.07 288.2 1425.11C287.67 1429.15 287.13 1433.19 286.6 1437.23C286.07 1441.27 285.53 1445.32 285 1449.36C284.47 1453.4 283.93 1457.19 283.4 1461.48C282.87 1465.77 282.33 1470.37 281.8 1475.21C281.27 1480.05 280.73 1484.96 280.2 1490.64C279.63 1496.67 279.07 1504.67 278.5 1510.88C277.83 1518.19 277.17 1524.39 276.5 1531.12C275.83 1537.85 275.17 1545.5 274.5 1551.26C273.7 1558.18 272.9 1563.94 272.1 1569.3C271.3 1574.67 270.5 1580.05 269.7 1583.83C268.6 1589.02 267.5 1592.73 266.4 1596.36C265.33 1599.87 264.27 1603.42 263.2 1605.67C261.87 1608.49 260.53 1610.72 259.2 1612.19C257.57 1613.99 255.93 1615.52 254.3 1616.2C252.17 1617.07 250.03 1617.68 247.9 1617.9C245.2 1618.18 242.5 1618.32 239.8 1618.4C231.47 1618.64 223.13 1618.8 214.8 1618.8C210.87 1618.8 206.93 1618.44 203 1618.1C201.67 1617.99 200.33 1617.79 199 1617.6L198.5 1618.4C196.33 1619.06 194.17 1619.74 192 1620C188 1620.49 184 1620.8 180 1620.9C172.87 1621.08 165.73 1621.2 158.6 1621.2Z" fill="#fff"/>
<g stroke="#000" stroke-width="2.4" fill="none">
<path d="M199.5 1199.9v17 M199.5 1641.4v-17 M300.36 1199.9v8.5 M300.36 1641.4v-8.5 M401.23 1199.9v17 M401.23 1641.4v-17 M502.09 1199.9v8.5 M502.09 1641.4v-8.5 M602.95 1199.9v17 M602.95 1641.4v-17 M703.81 1199.9v8.5 M703.81 1641.4v-8.5 M804.68 1199.9v17 M804.68 1641.4v-17 M905.54 1199.9v8.5 M905.54 1641.4v-8.5 M1006.4 1199.9v17 M1006.4 1641.4v-17 M158.6 1620.08h17.5 M1046.6 1620.08h-17.5 M158.6 1578.05h9 M1046.6 1578.05h-9 M158.6 1536.02h17.5 M1046.6 1536.02h-17.5 M158.6 1493.99h9 M1046.6 1493.99h-9 M158.6 1451.96h17.5 M1046.6 1451.96h-17.5 M158.6 1409.93h9 M1046.6 1409.93h-9 M158.6 1367.9h17.5 M1046.6 1367.9h-17.5 M158.6 1325.87h9 M1046.6 1325.87h-9 M158.6 1283.84h17.5 M1046.6 1283.84h-17.5 M158.6 1241.81h9 M1046.6 1241.81h-9"/>
<rect x="158.6" y="1199.9" width="888" height="441.5"/>
</g>
<g font-size="30.2">
<text x="199.5" y="1683.2" font-size="30.2" text-anchor="middle">100</text>
<text x="401.23" y="1683.2" font-size="30.2" text-anchor="middle">150</text>
<text x="602.95" y="1683.2" font-size="30.2" text-anchor="middle">200</text>
<text x="804.68" y="1683.2" font-size="30.2" text-anchor="middle">250</text>
<text x="1006.4" y="1683.2" font-size="30.2" text-anchor="middle">300</text>
<text x="140.4" y="1628.08" font-size="30.2" text-anchor="end">-6</text>
<text x="140.4" y="1544.02" font-size="30.2" text-anchor="end">-4</text>
<text x="140.4" y="1459.96" font-size="30.2" text-anchor="end">-2</text>
<text x="140.4" y="1375.9" font-size="30.2" text-anchor="end">0</text>
<text x="140.4" y="1291.84" font-size="30.2" text-anchor="end">2</text>
<text x="140.4" y="1207.78" font-size="30.2" text-anchor="end">4</text>
</g>
<text x="603.4" y="1723.5" font-size="33.3" text-anchor="middle">Position (nm)</text>
<text transform="translate(98 1420.15) rotate(-90)" font-size="33.3" text-anchor="middle">Energy (eV)</text>
<circle cx="264.8" cy="1393.4" r="10.6" fill="#0d0d0d"/>
<circle cx="652.4" cy="1227.1" r="10.6" fill="#0d0d0d"/>
<circle cx="989.9" cy="1222" r="10.6" fill="#0d0d0d"/>
<path d="M554.7 1222.5H646.8V1394.8H554.7Z" fill="none" stroke="#000" stroke-width="2.3" stroke-dasharray="4.8 9.3"/>
<path d="M648.5 1224.4L1259.6 1247.3" fill="none" stroke="#000" stroke-width="2.3" stroke-dasharray="4.8 9.3"/>
<path d="M646.8 1394.8L1259.6 1526.5" fill="none" stroke="#000" stroke-width="2.3" stroke-dasharray="4.8 9.3"/>
<circle cx="301.9" cy="1393.4" r="8.6" fill="#fff" fill-opacity="0.94" stroke="#111" stroke-width="3.6"/>
<circle cx="549" cy="1389" r="8.6" fill="#fff" fill-opacity="0.94" stroke="#111" stroke-width="3.6"/>
<path d="M158.6 1477.1C167.4 1477.1 176.2 1476.75 185 1476.3C189.5 1476.07 194 1475.37 198.5 1474.7L199 1477.7C204.33 1477.83 209.67 1477.9 215 1477.9C223.33 1477.9 231.67 1477.74 240 1477.5C242.7 1477.42 245.4 1477.28 248.1 1477C250.23 1476.78 252.37 1476.17 254.5 1475.3C256.13 1474.63 257.77 1473.1 259.4 1471.3C260.73 1469.83 262.07 1467.61 263.4 1464.8C264.47 1462.55 265.53 1459.01 266.6 1455.5C267.7 1451.88 268.8 1448.18 269.9 1443C270.7 1439.23 271.5 1433.85 272.3 1428.5C273.1 1423.15 273.9 1417.4 274.7 1410.5C275.37 1404.75 276.03 1397.12 276.7 1390.4C277.37 1383.68 278.03 1377.5 278.7 1370.2C279.27 1364 279.83 1356.02 280.4 1350C280.93 1344.33 281.47 1339.43 282 1334.6C282.53 1329.77 283.07 1325.18 283.6 1320.9C284.13 1316.62 284.67 1312.83 285.2 1308.8C285.73 1304.77 286.27 1300.73 286.8 1296.7C287.33 1292.67 287.87 1288.63 288.4 1284.6C288.93 1280.57 289.47 1276.01 290 1272.5C290.7 1267.89 291.4 1263.72 292.1 1260.4C292.77 1257.23 293.43 1254.76 294.1 1252.3C294.9 1249.35 295.7 1245.98 296.5 1244.2C297.57 1241.82 298.63 1240.16 299.7 1239C301.07 1237.51 302.43 1236.42 303.8 1235.7C305.93 1234.58 308.07 1233.74 310.2 1233.3C313.7 1232.58 317.2 1232.09 320.7 1231.9C327.13 1231.55 333.57 1231.42 340 1231.3C350 1231.11 360 1230.98 370 1230.9C393.33 1230.7 416.67 1230.79 440 1230.5C445 1230.44 450 1230.1 455 1229.8C457.13 1229.67 459.27 1229.49 461.4 1229.3L461.9 1236.6C463.27 1237.21 464.63 1237.82 466 1238.2C469 1239.03 472 1239.57 475 1240C479 1240.57 483 1240.98 487 1241.3C491.33 1241.64 495.67 1241.89 500 1242.1C510 1242.58 520 1243.2 530 1243.2C540 1243.2 550 1242.62 560 1242.1C564 1241.89 568 1241.6 572 1241.2C575.1 1240.89 578.2 1240.42 581.3 1239.9L581.8 1250.3C582.53 1250.8 583.27 1251.26 584 1251.5C585 1251.83 586 1252.04 587 1252.2C588.67 1252.47 590.33 1252.62 592 1252.8C594.67 1253.09 597.33 1253.31 600 1253.6C603.33 1253.96 606.67 1254.22 610 1254.8C612 1255.15 614 1255.81 616 1256.5C617.33 1256.96 618.67 1257.53 620 1258.2C621.27 1258.83 622.53 1259.62 623.8 1260.5L624.3 1250.3C626.2 1249.67 628.1 1249.06 630 1248.6C633.33 1247.79 636.67 1247.07 640 1246.6C643.33 1246.13 646.67 1245.79 650 1245.5C653.33 1245.21 656.67 1244.85 660 1244.8C670 1244.66 680 1244.6 690 1244.6C700 1244.6 710 1245.45 720 1246.1C725 1246.43 730 1246.77 735 1247.4C738.27 1247.81 741.53 1248.58 744.8 1249.4L745.3 1240C746.87 1238.58 748.43 1237.33 750 1236.6C751.67 1235.83 753.33 1235.35 755 1234.9C756.67 1234.45 758.33 1234.02 760 1233.8C766.67 1232.94 773.33 1232.45 780 1232.2C793.33 1231.7 806.67 1231.39 820 1231.3C836.67 1231.18 853.33 1231.1 870 1231.1C880 1231.1 890 1231.25 900 1231.5C905 1231.63 910 1232.15 915 1232.9C916.67 1233.15 918.33 1233.61 920 1234.2C921 1234.55 922 1235.18 923 1235.7C924.17 1236.31 925.33 1237.06 926.5 1237.6C927.67 1238.14 928.83 1238.73 930 1239C931.67 1239.39 933.33 1239.69 935 1239.8C936.67 1239.91 938.33 1239.98 940 1240C950 1240.14 960 1240.08 970 1240.2C980 1240.32 990 1240.73 1000 1241.5C1002.33 1241.68 1004.67 1242.18 1007 1242.6L1007.8 1240.4C1013.53 1240.3 1019.27 1240.2 1025 1240.2C1032.2 1240.2 1039.4 1240.2 1046.6 1240.2" fill="none" stroke="#000" stroke-width="3.5" stroke-linejoin="round"/>
<path d="M158.6 1621.2C165.73 1621.2 172.87 1621.08 180 1620.9C184 1620.8 188 1620.49 192 1620C194.17 1619.74 196.33 1619.06 198.5 1618.4L199 1617.6C200.33 1617.79 201.67 1617.99 203 1618.1C206.93 1618.44 210.87 1618.8 214.8 1618.8C223.13 1618.8 231.47 1618.64 239.8 1618.4C242.5 1618.32 245.2 1618.18 247.9 1617.9C250.03 1617.68 252.17 1617.07 254.3 1616.2C255.93 1615.52 257.57 1613.99 259.2 1612.19C260.53 1610.72 261.87 1608.49 263.2 1605.67C264.27 1603.42 265.33 1599.87 266.4 1596.36C267.5 1592.73 268.6 1589.02 269.7 1583.83C270.5 1580.05 271.3 1574.67 272.1 1569.3C272.9 1563.94 273.7 1558.18 274.5 1551.26C275.17 1545.5 275.83 1537.85 276.5 1531.12C277.17 1524.39 277.83 1518.19 278.5 1510.88C279.07 1504.67 279.63 1496.67 280.2 1490.64C280.73 1484.96 281.27 1480.05 281.8 1475.21C282.33 1470.37 282.87 1465.77 283.4 1461.48C283.93 1457.19 284.47 1453.4 285 1449.36C285.53 1445.32 286.07 1441.27 286.6 1437.23C287.13 1433.19 287.67 1429.15 288.2 1425.11C288.73 1421.07 289.27 1416.5 289.8 1412.98C290.5 1408.37 291.2 1404.19 291.9 1400.86C292.57 1397.69 293.23 1395.21 293.9 1392.74C294.7 1389.78 295.5 1386.41 296.3 1384.63C297.37 1382.24 298.43 1380.58 299.5 1379.42C300.87 1377.92 302.23 1376.83 303.6 1376.11C305.73 1374.99 307.87 1374.14 310 1373.7C313.5 1372.99 317 1372.49 320.5 1372.3C326.93 1371.95 333.37 1371.82 339.8 1371.7C349.8 1371.51 359.8 1371.3 369.8 1371.3C393.2 1371.3 416.6 1372.9 440 1372.9C445 1372.9 450 1372.26 455 1371.9C457.13 1371.74 459.27 1371.57 461.4 1371.4L461.9 1366.5C462.6 1367.04 463.3 1367.55 464 1367.9C465.33 1368.56 466.67 1369.06 468 1369.4C470.33 1370 472.67 1370.35 475 1370.7C479 1371.31 483 1371.82 487 1372.2C491.33 1372.61 495.67 1373.05 500 1373.2C510 1373.54 520 1373.8 530 1373.8C540 1373.8 550 1373.42 560 1373C565 1372.79 570 1372.31 575 1371.8C577.1 1371.59 579.2 1371.3 581.3 1371L581.8 1364.7C582.53 1365.5 583.27 1366.24 584 1366.6C585 1367.09 586 1367.46 587 1367.6C588.67 1367.83 590.33 1367.91 592 1368C594.67 1368.14 597.33 1368.18 600 1368.3C603.33 1368.45 606.67 1368.58 610 1368.9C612 1369.09 614 1369.5 616 1370.1C617 1370.4 618 1370.91 619 1371.6C619.83 1372.18 620.67 1373.12 621.5 1374.3C622.27 1375.39 623.03 1377.08 623.8 1379L624.3 1382.4C626.2 1381.29 628.1 1380.36 630 1379.8C631.67 1379.31 633.33 1379 635 1378.7C640 1377.79 645 1376.88 650 1376.5C660 1375.75 670 1375.1 680 1375.1C690 1375.1 700 1375.43 710 1375.8C716.67 1376.05 723.33 1376.59 730 1377.3C733.33 1377.65 736.67 1377.93 740 1378.9C741.6 1379.37 743.2 1381.22 744.8 1382.9L745.3 1378.5C746.53 1377.69 747.77 1376.92 749 1376.5C751 1375.83 753 1375.37 755 1375.1C760 1374.42 765 1374.04 770 1373.8C780 1373.33 790 1373.08 800 1372.9C816.67 1372.6 833.33 1372.3 850 1372.3C863.33 1372.3 876.67 1372.3 890 1372.3C896.67 1372.3 903.33 1372.58 910 1373C913.33 1373.21 916.67 1373.84 920 1374.7C922.33 1375.3 924.67 1377.15 927 1378C929 1378.73 931 1379.7 933 1379.8C938.67 1380.09 944.33 1380.15 950 1380.2C963.33 1380.32 976.67 1380.25 990 1380.4C994.33 1380.45 998.67 1381.11 1003 1382C1004.5 1382.31 1006 1383.09 1007.5 1383.8L1008 1382.9C1013.67 1382.82 1019.33 1382.74 1025 1382.7C1032.2 1382.65 1039.4 1382.6 1046.6 1382.6" fill="none" stroke="#000" stroke-width="3.5" stroke-linejoin="round"/>
<line x1="242.6" y1="1393.4" x2="227.5" y2="1393.4" stroke="#000" stroke-width="3.5"/>
<path d="M207.7 1393.4L231.5 1384.4Q225.5 1393.4 231.5 1402.4Z"/>
<line x1="320" y1="1393.4" x2="335.1" y2="1393.4" stroke="#000" stroke-width="3.5"/>
<path d="M354.9 1393.4L331.1 1402.4Q337.1 1393.4 331.1 1384.4Z"/>
<line x1="971.8" y1="1222" x2="957.3" y2="1222" stroke="#000" stroke-width="3.5"/>
<path d="M937.5 1222L961.3 1213Q955.3 1222 961.3 1231Z"/>
<path d="M638.5 1226.3Q626 1227.5 615.96 1231.7" fill="none" stroke="#000" stroke-width="3.8"/>
<path d="M599.8 1241.7L615.57 1221.59Q614.25 1232.75 624.84 1236.55Z"/>
<path d="M567 1389.3Q579 1388.5 588.24 1383.8" fill="none" stroke="#000" stroke-width="3.8"/>
<path d="M604.4 1373.8L588.63 1393.91Q589.95 1382.75 579.36 1378.95Z"/>
<text x="181.8" y="1510.7" font-size="40.5">E<tspan font-size="27.5" dy="9.4" dx="0.3">c</tspan></text>
<text x="181.8" y="1609.4" font-size="40.5">E<tspan font-size="27.5" dy="9.4" dx="0.3">v</tspan></text>
<line x1="364" y1="1478.6" x2="305.27" y2="1420.01" stroke="#231f20" stroke-width="5.6"/>
<path d="M281.2 1396L320.4 1414.2Q302.72 1417.47 299.49 1435.15Z" fill="#231f20"/>
<path d="M285.16 1399.96L315.37 1413.85Q302.16 1416.91 299.13 1430.13Z" fill="#a05a2c"/>
<line x1="838" y1="1482.3" x2="916.76" y2="1278.12" stroke="#000" stroke-width="5.6"/>
<path d="M929 1246.4L928.2 1289.61Q918.06 1274.76 900.58 1278.95Z" fill="#000"/>
<path d="M926.98 1251.62L926.48 1284.87Q918.35 1274.02 905.03 1276.6Z" fill="#0066ff"/>
<text x="450.8" y="1508.9" font-size="33.2" text-anchor="middle" font-weight="bold">Bottom TJ under</text>
<text x="450.8" y="1554.4" font-size="33.2" text-anchor="middle" font-weight="bold">reverse bias</text>
<text x="450.8" y="1599.9" font-size="33.2" text-anchor="middle" font-weight="bold" fill="#a05a2c">tunneling</text>
<text x="753.6" y="1508.9" font-size="33.2" text-anchor="middle" font-weight="bold">Top TJ under</text>
<text x="753.6" y="1554.4" font-size="33.2" text-anchor="middle" font-weight="bold">forward bias</text>
<text x="753.6" y="1599.9" font-size="33.2" text-anchor="middle" font-weight="bold" fill="#0066ff">drift-diffusion</text>
<rect x="1259.6" y="1247.5" width="465.6" height="279" fill="#f9f9f9"/>
<rect x="1434.6" y="1247.5" width="120.7" height="279" fill="#b7cef6"/>
<path d="M1259.6 1306.3C1273.07 1306.3 1286.53 1306.21 1300 1306.1C1314 1305.98 1328 1305.49 1342 1304.9C1354.67 1304.37 1367.33 1303.15 1380 1302C1390 1301.09 1400 1299.83 1410 1298.7C1418.1 1297.79 1426.2 1296.85 1434.3 1295.9L1434.8 1331.9C1435.6 1333.87 1436.4 1335.88 1437.2 1337C1439.13 1339.71 1441.07 1341.39 1443 1342.6C1446 1344.48 1449 1345.97 1452 1346.6C1456.33 1347.51 1460.67 1348.19 1465 1348.3C1470 1348.42 1475 1348.42 1480 1348.5C1486.67 1348.61 1493.33 1348.68 1500 1348.9C1506.67 1349.12 1513.33 1349.75 1520 1350.7C1525 1351.41 1530 1353.11 1535 1355.2C1538.33 1356.6 1541.67 1358.85 1545 1361.6C1547.33 1363.53 1549.67 1365.79 1552 1369.4C1552.93 1370.84 1553.87 1373.18 1554.8 1375.5L1555.4 1338.5C1558.6 1337.1 1561.8 1335.79 1565 1334.8C1570 1333.25 1575 1332.06 1580 1331C1586.67 1329.59 1593.33 1328.43 1600 1327.4C1610 1325.85 1620 1324.43 1630 1323.4C1643.33 1322.03 1656.67 1320.87 1670 1320.1C1688.4 1319.03 1706.8 1318.08 1725.2 1317.7L1725.2 1450.2C1706.8 1450.85 1688.4 1452 1670 1453.3C1656.67 1454.24 1643.33 1455.52 1630 1457C1620 1458.11 1610 1459.55 1600 1461.1C1593.33 1462.13 1586.67 1463.16 1580 1464.6C1575 1465.68 1570 1467.07 1565 1468.7C1561.83 1469.73 1558.67 1471.02 1555.5 1472.4L1555 1449.5C1554.67 1448.54 1554.33 1447.49 1554 1446.8C1552 1442.69 1550 1440.11 1548 1437.9C1545.33 1434.95 1542.67 1432.75 1540 1431C1536.67 1428.82 1533.33 1426.88 1530 1425.8C1525 1424.18 1520 1422.83 1515 1422.4C1510 1421.97 1505 1421.6 1500 1421.6C1490 1421.6 1480 1421.6 1470 1421.6C1465.67 1421.6 1461.33 1421.25 1457 1420.8C1454 1420.49 1451 1419.45 1448 1418.4C1445.67 1417.59 1443.33 1416.5 1441 1415C1439.67 1414.14 1438.33 1413.28 1437 1411.5C1436.27 1410.52 1435.53 1408.42 1434.8 1406.3L1434.3 1428.4C1426.2 1429.4 1418.1 1430.35 1410 1431.2C1400 1432.25 1390 1433.29 1380 1434.1C1367.33 1435.12 1354.67 1436.01 1342 1436.7C1328 1437.47 1314 1438.29 1300 1438.6C1286.53 1438.9 1273.07 1439.2 1259.6 1439.2Z" fill="#fff"/>
<g stroke="#000" stroke-width="2.5" fill="none">
<path d="M1259.6 1247.5v12.5 M1259.6 1526.5v-12.5 M1317.8 1247.5v5.4 M1317.8 1526.5v-5.4 M1376 1247.5v12.5 M1376 1526.5v-12.5 M1434.2 1247.5v5.4 M1434.2 1526.5v-5.4 M1492.4 1247.5v12.5 M1492.4 1526.5v-12.5 M1550.6 1247.5v5.4 M1550.6 1526.5v-5.4 M1608.8 1247.5v12.5 M1608.8 1526.5v-12.5 M1667 1247.5v5.4 M1667 1526.5v-5.4 M1725.2 1247.5v12.5 M1725.2 1526.5v-12.5 M1259.6 1267.5h14 M1725.2 1267.5h-14 M1259.6 1336.6h14 M1725.2 1336.6h-14 M1259.6 1416.3h14 M1725.2 1416.3h-14 M1259.6 1484.7h14 M1725.2 1484.7h-14 M1259.6 1302h6.5 M1725.2 1302h-6.5 M1259.6 1370.8h6.5 M1725.2 1370.8h-6.5 M1259.6 1450.4h6.5 M1725.2 1450.4h-6.5 M1259.6 1519.3h6.5 M1725.2 1519.3h-6.5"/>
<rect x="1259.6" y="1247.5" width="465.6" height="279"/>
</g>
<path d="M1246 1386.9 L1273 1382.1 L1273 1386.8 L1246 1391.6Z" fill="#fff"/>
<path d="M1246 1386.9 L1273 1382.1 M1246 1391.6 L1273 1386.8" stroke="#000" stroke-width="1.7" fill="none"/>
<path d="M1711.6 1386.9 L1738.6 1382.1 L1738.6 1386.8 L1711.6 1391.6Z" fill="#fff"/>
<path d="M1711.6 1386.9 L1738.6 1382.1 M1711.6 1391.6 L1738.6 1386.8" stroke="#000" stroke-width="1.7" fill="none"/>
<text x="1261" y="1571.8" font-size="30.2" text-anchor="middle">180</text>
<text x="1377.4" y="1571.8" font-size="30.2" text-anchor="middle">190</text>
<text x="1493.8" y="1571.8" font-size="30.2" text-anchor="middle">200</text>
<text x="1610.2" y="1571.8" font-size="30.2" text-anchor="middle">210</text>
<text x="1726.6" y="1571.8" font-size="30.2" text-anchor="middle">220</text>
<text x="1244.7" y="1275.8" font-size="30.2" text-anchor="end">3.2</text>
<text x="1244.7" y="1344.9" font-size="30.2" text-anchor="end">2.8</text>
<text x="1244.7" y="1424.6" font-size="30.2" text-anchor="end">0.0</text>
<text x="1244.7" y="1493" font-size="30.2" text-anchor="end">-0.4</text>
<text x="1495" y="1611.5" font-size="33.3" text-anchor="middle">Position (nm)</text>
<text transform="translate(1179.8 1386.7) rotate(-90)" font-size="33.3" text-anchor="middle">Energy (eV)</text>
<path d="M1259.6 1306.3C1273.07 1306.3 1286.53 1306.21 1300 1306.1C1314 1305.98 1328 1305.49 1342 1304.9C1354.67 1304.37 1367.33 1303.15 1380 1302C1390 1301.09 1400 1299.83 1410 1298.7C1418.1 1297.79 1426.2 1296.85 1434.3 1295.9L1434.8 1331.9C1435.6 1333.87 1436.4 1335.88 1437.2 1337C1439.13 1339.71 1441.07 1341.39 1443 1342.6C1446 1344.48 1449 1345.97 1452 1346.6C1456.33 1347.51 1460.67 1348.19 1465 1348.3C1470 1348.42 1475 1348.42 1480 1348.5C1486.67 1348.61 1493.33 1348.68 1500 1348.9C1506.67 1349.12 1513.33 1349.75 1520 1350.7C1525 1351.41 1530 1353.11 1535 1355.2C1538.33 1356.6 1541.67 1358.85 1545 1361.6C1547.33 1363.53 1549.67 1365.79 1552 1369.4C1552.93 1370.84 1553.87 1373.18 1554.8 1375.5L1555.4 1338.5C1558.6 1337.1 1561.8 1335.79 1565 1334.8C1570 1333.25 1575 1332.06 1580 1331C1586.67 1329.59 1593.33 1328.43 1600 1327.4C1610 1325.85 1620 1324.43 1630 1323.4C1643.33 1322.03 1656.67 1320.87 1670 1320.1C1688.4 1319.03 1706.8 1318.08 1725.2 1317.7" fill="none" stroke="#000" stroke-width="3.4" stroke-linejoin="round"/>
<path d="M1259.6 1439.2C1273.07 1439.2 1286.53 1438.9 1300 1438.6C1314 1438.29 1328 1437.47 1342 1436.7C1354.67 1436.01 1367.33 1435.12 1380 1434.1C1390 1433.29 1400 1432.25 1410 1431.2C1418.1 1430.35 1426.2 1429.4 1434.3 1428.4L1434.8 1406.3C1435.53 1408.42 1436.27 1410.52 1437 1411.5C1438.33 1413.28 1439.67 1414.14 1441 1415C1443.33 1416.5 1445.67 1417.59 1448 1418.4C1451 1419.45 1454 1420.49 1457 1420.8C1461.33 1421.25 1465.67 1421.6 1470 1421.6C1480 1421.6 1490 1421.6 1500 1421.6C1505 1421.6 1510 1421.97 1515 1422.4C1520 1422.83 1525 1424.18 1530 1425.8C1533.33 1426.88 1536.67 1428.82 1540 1431C1542.67 1432.75 1545.33 1434.95 1548 1437.9C1550 1440.11 1552 1442.69 1554 1446.8C1554.33 1447.49 1554.67 1448.54 1555 1449.5L1555.5 1472.4C1558.67 1471.02 1561.83 1469.73 1565 1468.7C1570 1467.07 1575 1465.68 1580 1464.6C1586.67 1463.16 1593.33 1462.13 1600 1461.1C1610 1459.55 1620 1458.11 1630 1457C1643.33 1455.52 1656.67 1454.24 1670 1453.3C1688.4 1452 1706.8 1450.85 1725.2 1450.2" fill="none" stroke="#000" stroke-width="3.4" stroke-linejoin="round"/>
<circle cx="1343.3" cy="1468" r="15.6" fill="#fff" fill-opacity="0.94" stroke="#111" stroke-width="3.8"/>
<circle cx="1642.1" cy="1292.6" r="17.4" fill="#000"/>
<path d="M1376.7 1469.4Q1419.8 1469.4 1464.8 1448.04" fill="none" stroke="#000" stroke-width="3.4"/>
<path d="M1482.2 1440.4L1463.76 1458.11Q1466.63 1447.23 1456.69 1441.99Z"/>
<path d="M1608.9 1291.7Q1566 1291.7 1520.81 1312.48" fill="none" stroke="#000" stroke-width="3.4"/>
<path d="M1503.4 1320.1L1521.86 1302.41Q1518.97 1313.28 1528.91 1318.54Z"/>
</svg>
</body>
</html>
